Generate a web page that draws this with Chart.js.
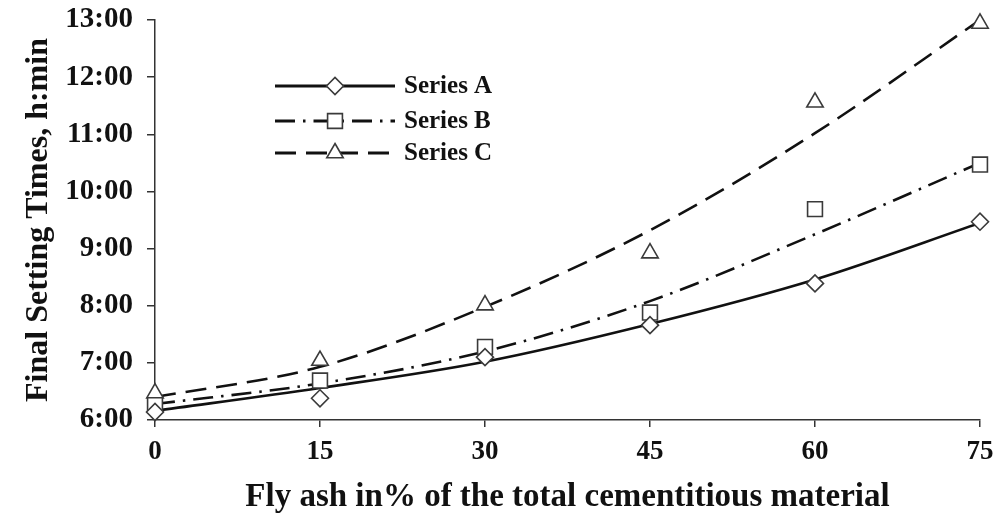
<!DOCTYPE html>
<html>
<head>
<meta charset="utf-8">
<script src="https://cdn.jsdelivr.net/npm/chart.js@4.4.1/dist/chart.umd.min.js"></script>
<style>
  html, body { margin: 0; padding: 0; background: #fff; }
</style>
</head>
<body>
<canvas id="settingChart" width="1000" height="523"></canvas>
<script>
// Fly ash replacement levels (%)
const flyAsh = [0, 15, 30, 45, 60, 75];

// Measured final setting times, in hours
const seriesA = [6.14, 6.38, 7.10, 7.66, 8.39, 9.47];
const seriesB = [6.26, 6.69, 7.28, 7.88, 9.69, 10.47];
const seriesC = [6.47, 7.04, 8.01, 8.92, 11.56, 12.94];

// Trend curves read at the same replacement levels
const trendA = [6.16, 6.56, 7.02, 7.68, 8.46, 9.45];
const trendB = [6.28, 6.64, 7.20, 8.08, 9.25, 10.50];
const trendC = [6.40, 6.93, 7.98, 9.32, 11.02, 13.00];

const seriesNames = ['Series A', 'Series B', 'Series C'];
const yTicks = [6, 7, 8, 9, 10, 11, 12, 13];

const INK = '#111';
const MARK = '#3a3a3a';
const SERIF = '"Liberation Serif", "Times New Roman", serif';

const styles = [
  { dash: [], point: 'rectRot', radius: 8.5 },
  { dash: [20, 8, 2.5, 8], point: 'rect', radius: 10.5 },
  { dash: [21, 10], point: 'triangle', radius: 9.5 }
];

const toPts = arr => arr.map((v, i) => ({ x: flyAsh[i], y: v }));

function hhmm(v) {
  const h = Math.floor(v);
  const m = Math.round((v - h) * 60);
  return h + ':' + String(m).padStart(2, '0');
}

const datasets = [];
[trendA, trendB, trendC].forEach((t, i) => {
  datasets.push({
    label: seriesNames[i] + ' trend',
    data: toPts(t),
    showLine: true,
    borderColor: INK,
    borderWidth: 2.6,
    borderDash: styles[i].dash,
    cubicInterpolationMode: 'monotone',
    pointRadius: 0,
    order: 1
  });
});
[seriesA, seriesB, seriesC].forEach((s, i) => {
  datasets.push({
    label: seriesNames[i],
    data: toPts(s),
    showLine: false,
    pointStyle: styles[i].point,
    pointRadius: styles[i].radius,
    pointBorderWidth: 1.6,
    pointBorderColor: MARK,
    pointBackgroundColor: '#fff',
    clip: false,
    order: 0
  });
});

// Legend drawn inside the plot: line sample with marker, then label
const insetLegend = {
  id: 'insetLegend',
  afterDraw(chart) {
    const ctx = chart.ctx;
    const rows = [86, 121, 153];
    const x0 = 275, x1 = 395, xm = 335, xt = 404;
    ctx.save();
    rows.forEach((y, i) => {
      ctx.beginPath();
      ctx.setLineDash(styles[i].dash);
      ctx.lineWidth = 3;
      ctx.strokeStyle = INK;
      ctx.moveTo(x0, y);
      ctx.lineTo(x1, y);
      ctx.stroke();
      ctx.setLineDash([]);
      ctx.fillStyle = '#fff';
      ctx.strokeStyle = MARK;
      ctx.lineWidth = 1.6;
      Chart.helpers.drawPoint(ctx, {
        pointStyle: styles[i].point,
        radius: styles[i].radius,
        rotation: 0,
        borderWidth: 1.6
      }, xm, y);
      ctx.fillStyle = INK;
      ctx.font = 'bold 25px ' + SERIF;
      ctx.textBaseline = 'middle';
      ctx.textAlign = 'left';
      ctx.fillText(seriesNames[i], xt, y + 1);
    });
    ctx.restore();
  }
};

new Chart(document.getElementById('settingChart'), {
  type: 'scatter',
  data: { datasets },
  plugins: [insetLegend],
  options: {
    responsive: false,
    animation: false,
    layout: { padding: { left: 6, right: 20, top: 20, bottom: 2 } },
    plugins: { legend: { display: false }, tooltip: { enabled: false } },
    scales: {
      x: {
        type: 'linear',
        min: 0,
        max: 75,
        afterFit(scale) {
          scale.height = 101;
          scale.paddingLeft = 0;
          scale.paddingRight = 0;
        },
        afterBuildTicks(scale) { scale.ticks = flyAsh.map(v => ({ value: v })); },
        ticks: {
          color: INK,
          padding: 9,
          font: { family: SERIF, size: 27, weight: 'bold' }
        },
        grid: { drawOnChartArea: false, color: '#333', tickLength: 7, lineWidth: 1.5 },
        border: { color: '#333', width: 1.5 },
        title: {
          display: true,
          text: 'Fly ash in% of the total cementitious material',
          color: INK,
          font: { family: SERIF, size: 33, weight: 'bold' },
          padding: { top: 12 }
        }
      },
      y: {
        min: 6,
        max: 13,
        afterFit(scale) {
          scale.width = 149;
          scale.paddingTop = 0;
          scale.paddingBottom = 0;
        },
        afterBuildTicks(scale) { scale.ticks = yTicks.map(v => ({ value: v })); },
        ticks: {
          color: INK,
          padding: 14,
          callback: v => hhmm(v),
          font: { family: SERIF, size: 29, weight: 'bold' }
        },
        grid: { drawOnChartArea: false, color: '#333', tickLength: 8, lineWidth: 1.5 },
        border: { color: '#333', width: 1.5 },
        title: {
          display: true,
          text: 'Final Setting Times, h:min',
          color: INK,
          font: { family: SERIF, size: 32, weight: 'bold' },
          padding: { top: 14, bottom: 0 }
        }
      }
    }
  }
});
</script>
</body>
</html>
